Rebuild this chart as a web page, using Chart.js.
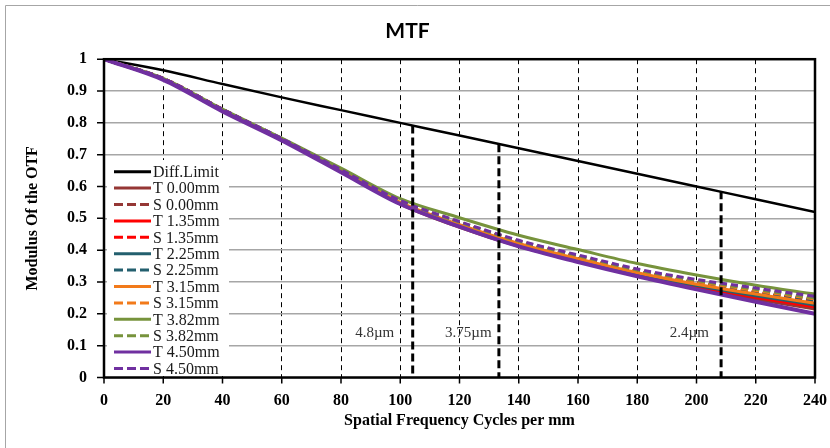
<!DOCTYPE html>
<html>
<head>
<meta charset="utf-8">
<script src="https://cdn.jsdelivr.net/npm/chart.js@4.4.1/dist/chart.umd.min.js"></script>
<style>
html, body { margin: 0; padding: 0; background: #fff; }
canvas { display: block; }
</style>
</head>
<body>
<canvas id="mtf_canvas" width="830" height="448"></canvas>
<script>
// spatial frequency, cycles per mm
const freq = [0, 20, 40, 60, 80, 100, 120, 140, 160, 180, 200, 220, 240];

const diffLimit = [1, 0.965, 0.922, 0.88, 0.84, 0.80, 0.76, 0.72, 0.68, 0.64, 0.60, 0.56, 0.52];
const t000 = [1, 0.937, 0.838, 0.747, 0.648, 0.545, 0.472, 0.412, 0.364, 0.320, 0.280, 0.246, 0.215];
const s000 = [1, 0.939, 0.842, 0.749, 0.650, 0.551, 0.484, 0.424, 0.377, 0.332, 0.297, 0.266, 0.238];
const t135 = [1, 0.937, 0.838, 0.747, 0.648, 0.547, 0.475, 0.415, 0.367, 0.323, 0.285, 0.252, 0.222];
const s135 = [1, 0.940, 0.843, 0.750, 0.651, 0.552, 0.485, 0.425, 0.378, 0.333, 0.298, 0.268, 0.240];
const t225 = [1, 0.937, 0.839, 0.748, 0.649, 0.548, 0.478, 0.418, 0.370, 0.326, 0.289, 0.257, 0.228];
const s225 = [1, 0.939, 0.842, 0.750, 0.651, 0.553, 0.486, 0.426, 0.379, 0.334, 0.300, 0.270, 0.243];
const t315 = [1, 0.938, 0.840, 0.749, 0.650, 0.550, 0.480, 0.421, 0.373, 0.329, 0.293, 0.262, 0.233];
const s315 = [1, 0.939, 0.842, 0.750, 0.652, 0.554, 0.487, 0.428, 0.381, 0.336, 0.302, 0.273, 0.247];
const t382 = [1, 0.940, 0.843, 0.752, 0.658, 0.562, 0.502, 0.447, 0.402, 0.358, 0.322, 0.290, 0.262];
const s382 = [1, 0.939, 0.842, 0.750, 0.652, 0.555, 0.488, 0.429, 0.383, 0.338, 0.305, 0.277, 0.250];
const t450 = [1, 0.935, 0.836, 0.745, 0.645, 0.545, 0.474, 0.412, 0.363, 0.318, 0.277, 0.238, 0.200];
const s450 = [1, 0.940, 0.843, 0.751, 0.653, 0.556, 0.490, 0.431, 0.385, 0.341, 0.308, 0.281, 0.255];

// Nyquist markers for the pixel pitches
const nyquistX = [104.2, 133.3, 208.3];
const nyquistTop = [0.792, 0.733, 0.585];
const pitchLabels = ['4.8µm', '3.75µm', '2.4µm'];
const pitchLabelX = [84.8, 115.1, 191];
const pitchLabelY = 0.14;

const seriesNames = ['Diff.Limit', 'T 0.00mm', 'S 0.00mm', 'T 1.35mm', 'S 1.35mm', 'T 2.25mm', 'S 2.25mm',
  'T 3.15mm', 'S 3.15mm', 'T 3.82mm', 'S 3.82mm', 'T 4.50mm', 'S 4.50mm'];
const seriesValues = [diffLimit, t000, s000, t135, s135, t225, s225, t315, s315, t382, s382, t450, s450];
const seriesColors = ['#000000', '#953735', '#953735', '#ff0000', '#ff0000', '#235f6e', '#235f6e',
  '#f27a1a', '#f27a1a', '#77933c', '#77933c', '#7030a0', '#7030a0'];

var datasets = [];
for (var i = 0; i < seriesNames.length; i++) {
  var dashed = seriesNames[i].charAt(0) == 'S';
  var width = 3;
  if (i == 0) width = 2.5;
  if (seriesNames[i] == 'T 4.50mm') width = 4;
  datasets.push({
    label: seriesNames[i],
    data: freq.map((f, k) => ({x: f, y: seriesValues[i][k]})),
    borderColor: seriesColors[i],
    borderWidth: width,
    borderDash: dashed ? [7, 4] : [],
    pointRadius: 0,
    cubicInterpolationMode: 'monotone',
    fill: false,
    order: -i,
    inLegend: true
  });
}
for (var j = 0; j < nyquistX.length; j++) {
  datasets.push({
    label: pitchLabels[j],
    data: [{x: nyquistX[j], y: nyquistTop[j]}, {x: nyquistX[j], y: 0}],
    borderColor: '#000',
    borderWidth: 3,
    borderDash: [8, 4],
    pointRadius: 0,
    fill: false,
    order: -20,
    inLegend: false
  });
}

const serif = "'Liberation Serif', 'Times New Roman', serif";

const mtfDecor = {
  id: 'mtfDecor',
  beforeDraw(chart) {
    const ctx = chart.ctx;
    ctx.save();
    ctx.fillStyle = '#fff';
    ctx.fillRect(0, 0, chart.width, chart.height);
    ctx.strokeStyle = '#a6a6a6';
    ctx.lineWidth = 1;
    ctx.beginPath();
    ctx.moveTo(5.5, chart.height);
    ctx.lineTo(5.5, 5.5);
    ctx.lineTo(chart.width, 5.5);
    ctx.stroke();
    ctx.restore();
  },
  afterDraw(chart) {
    const ctx = chart.ctx;
    const a = chart.chartArea;
    const xs = chart.scales.x, ys = chart.scales.y;
    ctx.save();

    // pitch labels
    ctx.font = '15px ' + serif;
    ctx.fillStyle = '#333';
    ctx.textAlign = 'left';
    ctx.textBaseline = 'middle';
    for (var j = 0; j < pitchLabels.length; j++) {
      ctx.fillText(pitchLabels[j], xs.getPixelForValue(pitchLabelX[j]), ys.getPixelForValue(pitchLabelY));
    }

    // tick marks
    ctx.strokeStyle = '#000';
    ctx.lineWidth = 1.5;
    ctx.beginPath();
    for (const t of xs.ticks) {
      var px = xs.getPixelForValue(t.value);
      ctx.moveTo(px, a.bottom);
      ctx.lineTo(px, a.bottom + 6);
    }
    for (const t of ys.ticks) {
      var py = ys.getPixelForValue(t.value);
      ctx.moveTo(a.left - 7, py);
      ctx.lineTo(a.left, py);
    }
    ctx.stroke();

    // plot frame
    ctx.lineWidth = 2.5;
    ctx.strokeRect(a.left, a.top, a.right - a.left, a.bottom - a.top);

    // legend inside the plot
    var lx = a.left + 3, ly = 160;
    ctx.fillStyle = '#fff';
    ctx.fillRect(lx, ly, 122, a.bottom - ly - 1.5);
    ctx.font = '16px ' + serif;
    ctx.textBaseline = 'middle';
    var row = 0;
    for (const ds of chart.data.datasets) {
      if (!ds.inLegend) continue;
      var ry = 171.7 + row * 16.4;
      ctx.strokeStyle = ds.borderColor;
      ctx.lineWidth = 3;
      ctx.setLineDash(ds.borderDash.length ? [9, 4] : []);
      ctx.beginPath();
      ctx.moveTo(114, ry);
      ctx.lineTo(151, ry);
      ctx.stroke();
      ctx.setLineDash([]);
      ctx.fillStyle = '#1a1a1a';
      ctx.fillText(ds.label, 153, ry + 1);
      row++;
    }
    ctx.restore();
  }
};

var ctx = document.getElementById('mtf_canvas').getContext('2d');
var myChart = new Chart(ctx, {
  type: 'line',
  data: {datasets: datasets},
  options: {
    responsive: false,
    animation: false,
    devicePixelRatio: 1,
    layout: {padding: {left: 0, right: 15, top: 0, bottom: 0}},
    plugins: {
      legend: {display: false},
      tooltip: {enabled: false},
      title: {
        display: true,
        text: 'MTF',
        color: '#000',
        font: {family: "Lato, 'Open Sans', sans-serif", size: 21, weight: 'bold'},
        padding: {top: 19, bottom: 15}
      }
    },
    scales: {
      x: {
        type: 'linear',
        min: 0,
        max: 240,
        afterFit: s => { s.height = 70.5; s.paddingLeft = 0; s.paddingRight = 0; },
        ticks: {
          stepSize: 20,
          padding: 14,
          color: '#000',
          font: {family: serif, size: 16, weight: 'bold'}
        },
        grid: {color: '#000', lineWidth: 1, drawTicks: false},
        border: {display: false, dash: [5, 4]},
        title: {
          display: true,
          text: 'Spatial Frequency Cycles per mm',
          color: '#000',
          font: {family: serif, size: 16, weight: 'bold'},
          padding: {top: 0, bottom: 18}
        }
      },
      y: {
        min: 0,
        max: 1,
        afterFit: s => { s.width = 104; s.paddingTop = 0; s.paddingBottom = 0; },
        ticks: {
          stepSize: 0.1,
          padding: 17,
          color: '#000',
          font: {family: serif, size: 16, weight: 'bold'},
          callback: v => String(Number(v.toFixed(1)))
        },
        grid: {color: '#a6a6a6', lineWidth: 1.5, drawTicks: false},
        border: {display: false},
        title: {
          display: true,
          text: 'Modulus Of the OTF',
          color: '#000',
          font: {family: serif, size: 16, weight: 'bold'},
          padding: {top: 23, bottom: 0}
        }
      }
    }
  },
  plugins: [mtfDecor]
});
</script>
</body>
</html>
